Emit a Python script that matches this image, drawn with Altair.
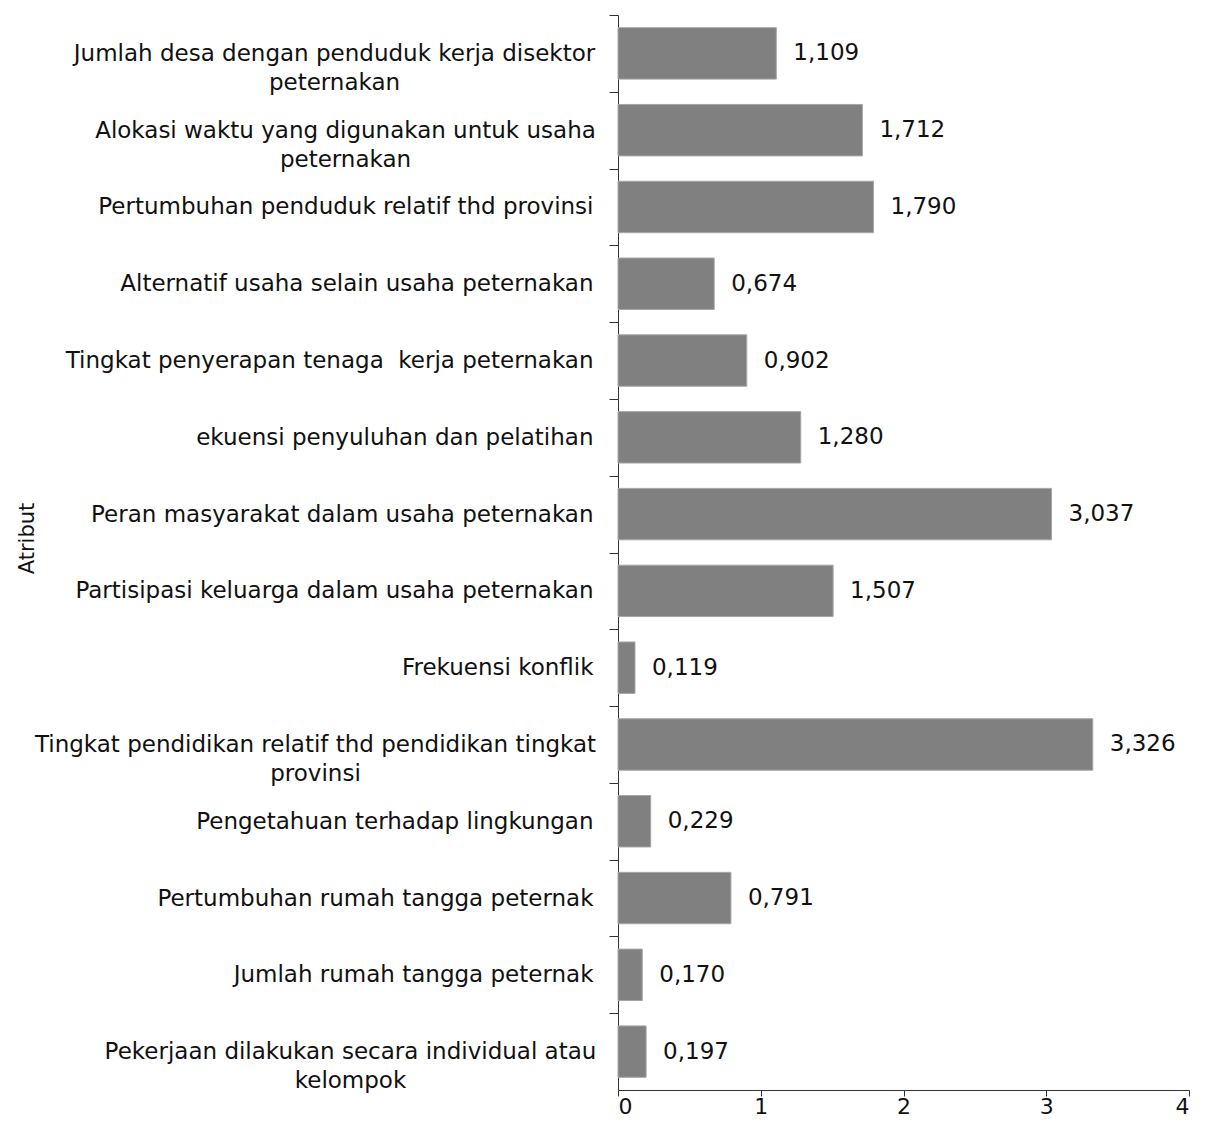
import altair as alt
import pandas as pd

atribut = [
    "Jumlah desa dengan penduduk kerja disektor\npeternakan",
    "Alokasi waktu yang digunakan untuk usaha\npeternakan",
    "Pertumbuhan penduduk relatif thd provinsi",
    "Alternatif usaha selain usaha peternakan",
    "Tingkat penyerapan tenaga \u00a0kerja peternakan",
    "ekuensi penyuluhan dan pelatihan",
    "Peran masyarakat dalam usaha peternakan",
    "Partisipasi keluarga dalam usaha peternakan",
    "Frekuensi konflik",
    "Tingkat pendidikan relatif thd pendidikan tingkat\nprovinsi",
    "Pengetahuan terhadap lingkungan",
    "Pertumbuhan rumah tangga peternak",
    "Jumlah rumah tangga peternak",
    "Pekerjaan dilakukan secara individual atau\nkelompok",
]
nilai = [1.109, 1.712, 1.790, 0.674, 0.902, 1.280, 3.037, 1.507, 0.119, 3.326, 0.229, 0.791, 0.170, 0.197]
x_ticks = [0, 1, 2, 3, 4]

df = pd.DataFrame({
    "atribut": atribut,
    "nilai": nilai,
    "teks": [f"{v:.3f}".replace(".", ",") for v in nilai],
})

FONT = "DejaVu Sans"
H = 1075
W = 571
N = len(atribut)
step = H / N

# multi-line labels are centred under their first line (as in the original)
multi = [
    ("Jumlah desa", 275),
    ("Alokasi waktu", 264),
    ("Tingkat pendidikan", 294),
    ("Pekerjaan dilakukan", 259),
]
pad_cond = {
    "condition": [
        {"test": f"indexof(datum.value, '{p}') == 0", "value": v} for p, v in multi
    ],
    "value": 16,
}
align_cond = {
    "condition": {
        "test": "indexof(datum.value, '\\n') >= 0",
        "value": "center",
    },
    "value": "right",
}

y_enc = alt.Y(
    "atribut:N",
    sort=None,
    scale=alt.Scale(paddingInner=0.33, paddingOuter=0.165),
    axis=alt.Axis(
        title="Atribut",
        titleFont=FONT,
        titleFontSize=21,
        titleFontWeight="normal",
        titleColor="#111",
        titleX=-591,
        titleY=523,
        titleAngle=270,
        titleAlign="center",
        titleBaseline="middle",
        labelFont=FONT,
        labelFontSize=23,
        labelColor="#111",
        labelLimit=800,
        labelLineHeight=29,
        labelExpr="split(datum.label, '\\n')",
        labelPadding=pad_cond,
        labelAlign=align_cond,
        tickSize=9,
        tickOffset=-step / 2,
        labelOffset=step / 2,
        tickColor="#333",
        domainColor="#333",
    ),
)

x_enc = alt.X(
    "nilai:Q",
    scale=alt.Scale(domain=[0, 4], nice=False),
    axis=alt.Axis(
        values=x_ticks,
        format="d",
        title=None,
        grid=False,
        labelFont=FONT,
        labelFontSize=22,
        labelColor="#111",
        tickSize=6,
        labelPadding=0,
        tickColor="#333",
        domainColor="#333",
    ),
)

bars = alt.Chart(df).mark_bar(color="#808080", stroke="#a6a6a6", strokeWidth=1).encode(
    x=x_enc, y=y_enc
)

texts = alt.Chart(df).mark_text(
    align="left", baseline="middle", dx=17, fontSize=23, font=FONT, color="#111"
).encode(x="nilai:Q", y=alt.Y("atribut:N", sort=None), text="teks:N")

chart = (
    alt.layer(bars, texts)
    .properties(
        width=W,
        height=H,
        background="white",
        autosize=alt.AutoSizeParams(type="none"),
        padding={"left": 610, "top": 7, "right": 8, "bottom": 32},
    )
    .configure_view(strokeWidth=0, stroke="transparent")
)

chart.save("out.html", embed_options={"renderer": "svg", "actions": False})
